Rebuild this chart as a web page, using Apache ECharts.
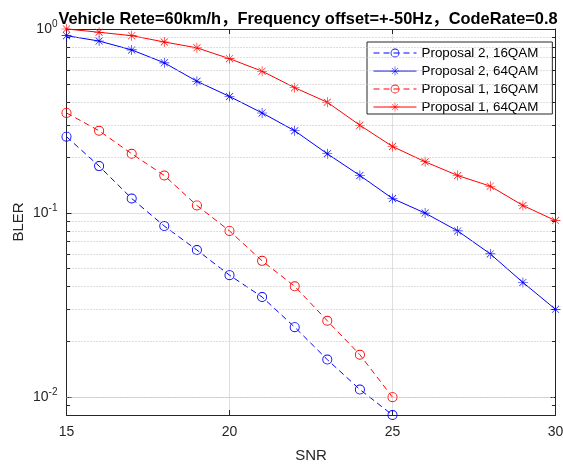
<!DOCTYPE html>
<html>
<head>
<meta charset="utf-8">
<script src="https://cdn.jsdelivr.net/npm/echarts@6/dist/echarts.min.js"></script>
<style>
  html, body { margin: 0; padding: 0; background: #fff; }
  #main { width: 563px; height: 464px; }
</style>
</head>
<body>
<div id="main"></div>
<script>
// x 轴 SNR
var snr16 = [15, 16, 17, 18, 19, 20, 21, 22, 23, 24, 25]
var snr64 = [15, 16, 17, 18, 19, 20, 21, 22, 23, 24, 25, 26, 27, 28, 29, 30]

// BLER 数据
var p2_16qam = [0.26, 0.18, 0.12, 0.085, 0.063, 0.046, 0.035, 0.024, 0.016, 0.011, 0.008]
var p2_64qam = [0.92, 0.86, 0.77, 0.655, 0.52, 0.43, 0.35, 0.28, 0.21, 0.16, 0.12, 0.10, 0.08, 0.06, 0.042, 0.03]
var p1_16qam = [0.35, 0.28, 0.21, 0.16, 0.11, 0.08, 0.055, 0.04, 0.026, 0.017, 0.01]
var p1_64qam = [1.0, 0.96, 0.92, 0.85, 0.79, 0.69, 0.59, 0.48, 0.40, 0.30, 0.23, 0.19, 0.16, 0.14, 0.11, 0.091]

var seriesNames = ['Proposal 2, 16QAM', 'Proposal 2, 64QAM', 'Proposal 1, 16QAM', 'Proposal 1, 64QAM']
var titleText = 'Vehicle Rete=60km/h，Frequency offset=+-50Hz，CodeRate=0.8'

var X_MIN = 15, X_MAX = 30, Y_MIN = 0.008, Y_MAX = 1

var axisColor = '#262626'
var font = "'Liberation Sans', Arial, 'Noto Sans CJK SC', sans-serif"

// MATLAB 风格的 * 号和空心 o（中间透明）
var starPath = 'path://M9.4 0h1.2v20h-1.2z M0 9.4h20v1.2h-20z M3.35 2.5L17.5 16.65L16.65 17.5L2.5 3.35z M16.65 2.5L17.5 3.35L3.35 17.5L2.5 16.65z'
var ringPath = 'path://M10 0A10 10 0 1 1 10 20A10 10 0 1 1 10 0Z M10 1.8A8.2 8.2 0 1 0 10 18.2A8.2 8.2 0 1 0 10 1.8Z'

function zip(xs, ys) {
    return ys.map(function (v, i) { return [xs[i], v] })
}

// 对数轴次网格（2..9 倍）
var minorVals = [0.009]
;[0.01, 0.1].forEach(function (d) {
    for (var k = 2; k <= 9; k++) minorVals.push(+(k * d).toFixed(4))
})
var minorGrid = minorVals.map(function (v) { return { yAxis: v } })
var minorTicks = []
minorVals.forEach(function (v) {
    minorTicks.push([{ coord: [X_MIN, v] }, { coord: [X_MIN + 0.11, v] }])
    minorTicks.push([{ coord: [X_MAX - 0.11, v] }, { coord: [X_MAX, v] }])
})

function logLabel(value) {
    var e = Math.log10(value)
    var r = Math.round(e)
    if (Math.abs(e - r) > 1e-6) return ''
    return '{b|10}{e|' + r + '}'
}

var chart = echarts.init(document.getElementById('main'))

var option = {
    animation: false,
    backgroundColor: '#fff',
    title: {
        text: titleText,
        left: 308,
        top: 11,
        textAlign: 'center',
        padding: 0,
        textStyle: {
            fontFamily: font,
            fontSize: 16.4,
            fontWeight: 'bold',
            color: '#000'
        }
    },
    legend: {
        orient: 'vertical',
        left: 367,
        top: 42,
        padding: [4, 14, 0, 6],
        itemGap: 4,
        itemWidth: 43,
        itemHeight: 11,
        borderColor: axisColor,
        borderWidth: 1,
        backgroundColor: '#fff',
        data: seriesNames,
        lineStyle: { width: 1 },
        textStyle: {
            fontFamily: font,
            fontSize: 13.4,
            color: '#000',
            lineHeight: 14
        }
    },
    grid: {
        left: 66.5,
        right: 7.5,
        top: 29,
        bottom: 49,
        outerBoundsMode: 'none'
    },
    xAxis: [
        {
            type: 'value',
            min: X_MIN,
            max: X_MAX,
            interval: 5,
            name: 'SNR',
            nameLocation: 'middle',
            nameGap: 33,
            nameMoveOverlap: false,
            nameTextStyle: { fontFamily: font, fontSize: 15, color: axisColor },
            axisLine: { show: true, onZero: false, lineStyle: { color: axisColor, width: 1 } },
            axisTick: { show: true, inside: true, length: 5, lineStyle: { color: axisColor } },
            axisLabel: { margin: 10, fontFamily: font, fontSize: 14, color: axisColor },
            splitLine: { show: true, lineStyle: { color: '#dedede', width: 1 } }
        },
        {
            type: 'value',
            position: 'top',
            min: X_MIN,
            max: X_MAX,
            interval: 5,
            axisLine: { show: true, onZero: false, lineStyle: { color: axisColor, width: 1 } },
            axisTick: { show: true, inside: true, length: 5, lineStyle: { color: axisColor } },
            axisLabel: { show: false },
            splitLine: { show: false }
        }
    ],
    yAxis: [
        {
            type: 'log',
            logBase: 10,
            min: Y_MIN,
            max: Y_MAX,
            name: 'BLER',
            nameLocation: 'middle',
            nameGap: 40,
            nameMoveOverlap: false,
            nameTextStyle: { fontFamily: font, fontSize: 15, color: axisColor },
            axisLine: { show: true, onZero: false, lineStyle: { color: axisColor, width: 1 } },
            axisTick: { show: true, inside: true, length: 5, lineStyle: { color: axisColor } },
            axisLabel: {
                margin: 9,
                formatter: logLabel,
                rich: {
                    b: { fontFamily: font, fontSize: 14, color: axisColor },
                    e: { fontFamily: font, fontSize: 10, color: axisColor, padding: [0, 0, 9, 0] }
                }
            },
            splitLine: { show: true, lineStyle: { color: '#dedede', width: 1 } }
        },
        {
            type: 'log',
            logBase: 10,
            position: 'right',
            min: Y_MIN,
            max: Y_MAX,
            axisLine: { show: true, onZero: false, lineStyle: { color: axisColor, width: 1 } },
            axisTick: { show: true, inside: true, length: 5, lineStyle: { color: axisColor } },
            axisLabel: { show: false },
            splitLine: { show: false }
        }
    ],
    series: [
        {
            // 次网格和次刻度
            type: 'line',
            data: [],
            silent: true,
            z: 1,
            markLine: {
                silent: true,
                symbol: ['none', 'none'],
                label: { show: false },
                emphasis: { disabled: true },
                lineStyle: { type: [1, 2], color: '#bdbdbd', width: 1 },
                data: minorGrid
            }
        },
        {
            type: 'line',
            data: [],
            silent: true,
            z: 4,
            markLine: {
                silent: true,
                symbol: ['none', 'none'],
                label: { show: false },
                emphasis: { disabled: true },
                lineStyle: { type: 'solid', color: axisColor, width: 1 },
                data: minorTicks
            }
        },
        {
            name: seriesNames[0],
            type: 'line',
            z: 3,
            clip: false,
            data: zip(snr16, p2_16qam),
            symbol: ringPath,
            symbolSize: 10,
            lineStyle: { color: '#0000ff', width: 1, type: [6, 4] },
            itemStyle: { color: '#0000ff', borderWidth: 0 }
        },
        {
            name: seriesNames[1],
            type: 'line',
            z: 3,
            clip: false,
            data: zip(snr64, p2_64qam),
            symbol: starPath,
            symbolSize: 10,
            lineStyle: { color: '#0000ff', width: 1 },
            itemStyle: { color: '#0000ff', borderWidth: 0 }
        },
        {
            name: seriesNames[2],
            type: 'line',
            z: 3,
            clip: false,
            data: zip(snr16, p1_16qam),
            symbol: ringPath,
            symbolSize: 10,
            lineStyle: { color: '#ff0000', width: 1, type: [6, 4] },
            itemStyle: { color: '#ff0000', borderWidth: 0 }
        },
        {
            name: seriesNames[3],
            type: 'line',
            z: 3,
            clip: false,
            data: zip(snr64, p1_64qam),
            symbol: starPath,
            symbolSize: 10,
            lineStyle: { color: '#ff0000', width: 1 },
            itemStyle: { color: '#ff0000', borderWidth: 0 }
        }
    ]
}

chart.setOption(option)
</script>
</body>
</html>
